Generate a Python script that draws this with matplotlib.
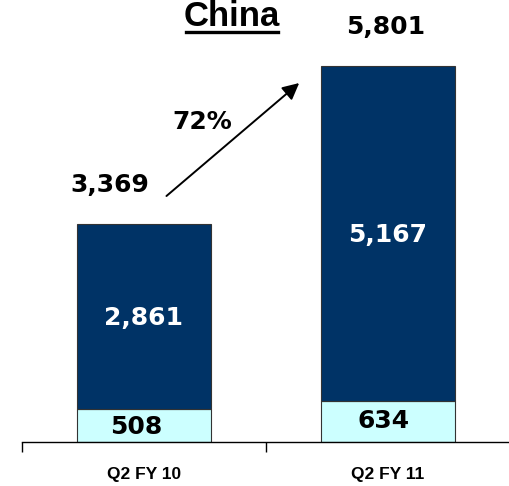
import matplotlib.pyplot as plt
from matplotlib.lines import Line2D

categories = ["Q2 FY 10", "Q2 FY 11"]
base = [508, 634]
top = [2861, 5167]
totals = [3369, 5801]
growth = "72%"

navy = "#003366"
cyan = "#CCFFFF"


def main():
    fig = plt.figure(figsize=(5.10, 4.86), dpi=100)
    ax = fig.add_axes([22 / 510, 44 / 486, 1 - 22 / 510, 442 / 486])

    x = list(range(len(categories)))
    ax.bar(x, base, width=0.552, color=cyan, edgecolor="#333333", linewidth=0.8)
    ax.bar(x, top, width=0.552, bottom=base, color=navy, edgecolor="#333333", linewidth=0.8)

    ax.set_xlim(-0.5, 1.495)
    ax.set_ylim(0, 6819)

    for s in ["top", "right", "left"]:
        ax.spines[s].set_visible(False)
    ax.spines["bottom"].set_linewidth(1.0)
    ax.set_yticks([])
    ax.set_xticks([-0.5, 0.5, 1.5])
    ax.set_xticklabels([])
    ax.tick_params(axis="x", direction="out", length=7, width=1.0)

    for i, c in enumerate(categories):
        ax.text(i, -500, c, ha="center", va="center", fontsize=12.5,
                fontweight="bold", family="Liberation Sans", clip_on=False)

    num = dict(fontsize=18, fontweight="bold", family="DejaVu Sans", ha="center", va="center")
    # segment labels
    ax.text(-0.03, base[0] / 2 - 20, f"{base[0]:,}", color="black", **num)
    ax.text(0.98, base[1] / 2, f"{base[1]:,}", color="black", **num)
    ax.text(0.0, base[0] + top[0] * 0.5 - 25, f"{top[0]:,}", color="white", **num)
    ax.text(1.0, base[1] + top[1] * 0.5 - 24, f"{top[1]:,}", color="white", **num)
    # totals
    ax.text(-0.141, totals[0] + 600, f"{totals[0]:,}", color="black", **num)
    ax.text(0.992, totals[1] + 600, f"{totals[1]:,}", color="black", **num)

    # growth arrow
    ax.annotate("", xy=(0.636, 5538), xytext=(0.092, 3795),
                arrowprops=dict(arrowstyle="-|>,head_length=1.0,head_width=0.5",
                                color="black", lw=1.4, shrinkA=0, shrinkB=0))
    ax.text(0.239, 4937, growth, color="black", **num)

    # title with underline
    t = fig.text(232 / 510, 1 - 16 / 486, "China", ha="center", va="center",
                 fontsize=25, fontweight="bold", family="Liberation Sans")
    fig.canvas.draw()
    bb = t.get_window_extent().transformed(fig.transFigure.inverted())
    uy = 1 - 32 / 486
    fig.add_artist(Line2D([bb.x0 + 0.004, bb.x1 - 0.004], [uy, uy], color="black", lw=2.4,
                          transform=fig.transFigure))

    fig.savefig("out.png", dpi=100)


if __name__ == "__main__":
    main()
